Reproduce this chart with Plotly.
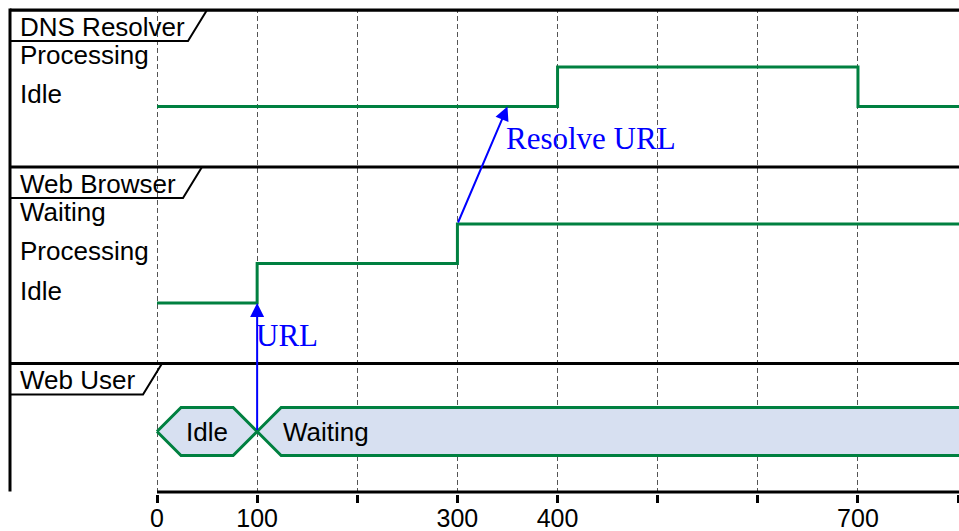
import plotly.graph_objects as go

# ---------------- data ----------------
TIME_TICKS = [0, 100, 200, 300, 400, 500, 600, 700, 800]
TICK_LABELS = ["0", "100", "", "300", "400", "", "", "700", ""]
END_TIME = 805

DNS_NAME = "DNS Resolver"
DNS_STATES = ["Idle", "Processing"]
DNS_TIMES = [0, 400, 700]
DNS_VALUES = ["Idle", "Processing", "Idle"]

WB_NAME = "Web Browser"
WB_STATES = ["Idle", "Processing", "Waiting"]
WB_TIMES = [0, 100, 300]
WB_VALUES = ["Idle", "Processing", "Waiting"]

WU_NAME = "Web User"
WU_TIMES = [0, 100]
WU_VALUES = ["Idle", "Waiting"]

MSG_LABELS = ["URL", "Resolve URL"]
MSG_FROM = [(WU_NAME, 100, None), (WB_NAME, 300, "Waiting")]
MSG_TO = [(WB_NAME, 100, "Idle"), (DNS_NAME, 350, "Idle")]

# ---------------- style / layout ----------------
W, H = 959, 531
X0_PX = 157.0
PX_PER_T = 1.0014
MB = 37
PLOT_H = H - MB

GREEN = "#008040"
FILL = "#D7E0F1"
BLUE = "#0000FF"
SANS = "Liberation Sans, Arial, sans-serif"
SERIF = "Liberation Serif, Times New Roman, serif"
FS = 26

FRAME_TOP = 10
FRAME_LEFT_PX = 10
HDR_H = 31
HDR_SLANT = 19
FIRST_OFF, STEP, TAIL = 57, 39.5, 60.5
CONCISE_H, CONCISE_MID, CONCISE_HALF, HEX_SLANT = 129, 68, 24, 24
HDR_RIGHT_PX = {DNS_NAME: 207, WB_NAME: 202, WU_NAME: 162}


def tx(px):
    return (px - X0_PX) / PX_PER_T


XMIN, XMAX = tx(0), tx(W)
XL = tx(FRAME_LEFT_PX)

lanes = [
    dict(name=DNS_NAME, kind="robust", states=DNS_STATES, times=DNS_TIMES, values=DNS_VALUES),
    dict(name=WB_NAME, kind="robust", states=WB_STATES, times=WB_TIMES, values=WB_VALUES),
    dict(name=WU_NAME, kind="concise", times=WU_TIMES, values=WU_VALUES),
]

top = FRAME_TOP
for ln in lanes:
    ln["top"] = top
    if ln["kind"] == "robust":
        n = len(ln["states"])
        ln["level"] = {s: top + FIRST_OFF + (n - 1 - i) * STEP for i, s in enumerate(ln["states"])}
        top += FIRST_OFF + (n - 1) * STEP + TAIL
    else:
        ln["mid"] = top + CONCISE_MID
        top += CONCISE_H
AXIS_Y = top
lane_by = {ln["name"]: ln for ln in lanes}

fig = go.Figure()
shapes = []
ann = []

for ln in lanes:
    t = ln["top"]
    shapes.append(dict(type="line", xref="x", yref="y", x0=XL, x1=XMAX + 5, y0=t, y1=t,
                       line=dict(color="black", width=3), layer="above"))
    rt = tx(HDR_RIGHT_PX[ln["name"]])
    rb = tx(HDR_RIGHT_PX[ln["name"]] - HDR_SLANT)
    shapes.append(dict(type="path", xref="x", yref="y",
                       path=f"M{rt},{t} L{rb},{t + HDR_H} L{XL},{t + HDR_H}",
                       line=dict(color="black", width=2), layer="above"))
    ann.append(dict(x=0, xref="paper", xshift=18, y=t + HDR_H / 2 + 1, yref="y",
                    text=ln["name"], showarrow=False, xanchor="left", yanchor="middle",
                    font=dict(family=SANS, size=FS, color="black")))
    if ln["kind"] == "robust":
        for s, yv in ln["level"].items():
            ann.append(dict(x=0, xref="paper", xshift=18, y=yv - 12.5, yref="y",
                            text=s, showarrow=False, xanchor="left", yanchor="middle",
                            font=dict(family=SANS, size=FS, color="black")))
        xs = list(ln["times"]) + [END_TIME]
        ys = [ln["level"][v] for v in ln["values"]] + [ln["level"][ln["values"][-1]]]
        fig.add_trace(go.Scatter(x=xs, y=ys, mode="lines", line_shape="hv",
                                 line=dict(color=GREEN, width=3), hoverinfo="skip"))
    else:
        m = ln["mid"]
        tp, bt = m - CONCISE_HALF, m + CONCISE_HALF
        ts = list(ln["times"])
        for i, v in enumerate(ln["values"]):
            t0 = ts[i]
            if i + 1 < len(ts):
                t1 = ts[i + 1]
                px_ = [t0, t0 + HEX_SLANT, t1 - HEX_SLANT, t1, t1 - HEX_SLANT, t0 + HEX_SLANT, t0]
                py_ = [m, tp, tp, m, bt, bt, m]
                lx, anchor = (t0 + t1) / 2, "center"
            else:
                t1 = END_TIME + 20
                px_ = [t0, t0 + HEX_SLANT, t1, t1, t0 + HEX_SLANT, t0]
                py_ = [m, tp, tp, bt, bt, m]
                lx, anchor = t0 + HEX_SLANT, "left"
            fig.add_trace(go.Scatter(x=px_, y=py_, mode="lines", fill="toself", fillcolor=FILL,
                                     line=dict(color=GREEN, width=3), hoverinfo="skip"))
            ann.append(dict(x=lx, y=m, xref="x", yref="y", text=v, showarrow=False,
                            xanchor=anchor, yanchor="middle",
                            font=dict(family=SANS, size=FS, color="black")))


def endpoint(spec):
    name, t, state = spec
    ln = lane_by[name]
    if ln["kind"] == "robust":
        return t, ln["level"][state]
    return t, ln["mid"]


for lbl, fr, to in zip(MSG_LABELS, MSG_FROM, MSG_TO):
    fx, fy = endpoint(fr)
    ex, ey = endpoint(to)
    ann.append(dict(x=ex, y=ey, ax=fx, ay=fy, xref="x", yref="y", axref="x", ayref="y",
                    text="", showarrow=True, arrowhead=2, arrowsize=1.4, arrowwidth=2,
                    arrowcolor=BLUE, standoff=0, startstandoff=0))
    ann.append(dict(x=ex, y=ey + 32, xref="x", yref="y", text=lbl, showarrow=False,
                    xanchor="left", yanchor="middle", xshift=-3,
                    font=dict(family=SERIF, size=31, color=BLUE)))

shapes.append(dict(type="rect", xref="x", yref="y", x0=XMIN, x1=XMAX, y0=-5, y1=FRAME_TOP - 1,
                   fillcolor="white", line=dict(width=0), layer="above"))
shapes.append(dict(type="line", xref="x", yref="y", x0=XL, x1=XL, y0=FRAME_TOP - 1.5, y1=AXIS_Y - 1,
                   line=dict(color="black", width=3), layer="above"))
shapes.append(dict(type="line", xref="x", yref="y", x0=0, x1=XMAX + 5, y0=AXIS_Y - 0.5, y1=AXIS_Y - 0.5,
                   line=dict(color="black", width=3), layer="above"))
shapes.append(dict(type="line", xref="x", yref="y", x0=XL, x1=XMAX + 5, y0=FRAME_TOP, y1=FRAME_TOP,
                   line=dict(color="black", width=3), layer="above"))

fig.update_layout(
    width=W, height=H,
    margin=dict(l=0, r=0, t=0, b=MB, pad=0, autoexpand=False),
    paper_bgcolor="white", plot_bgcolor="white",
    showlegend=False,
    shapes=shapes, annotations=ann,
    xaxis=dict(range=[XMIN, XMAX], tickvals=TIME_TICKS, ticktext=TICK_LABELS,
               ticks="outside", ticklen=8, tickwidth=3, tickcolor="black",
               showline=False, zeroline=False, automargin=False, ticklabelstandoff=-6,
               showgrid=True, gridcolor="#555555", gridwidth=1, griddash="5px,3px",
               tickfont=dict(family=SANS, size=25, color="black"), fixedrange=True),
    yaxis=dict(range=[PLOT_H, 0], visible=False, showgrid=False, zeroline=False,
               automargin=False, fixedrange=True),
)

fig.write_html(
    "out.html",
    config={"displayModeBar": False},
    post_script="document.body.style.margin='0';document.body.style.padding='0';"
                "document.body.style.overflow='hidden';",
)
